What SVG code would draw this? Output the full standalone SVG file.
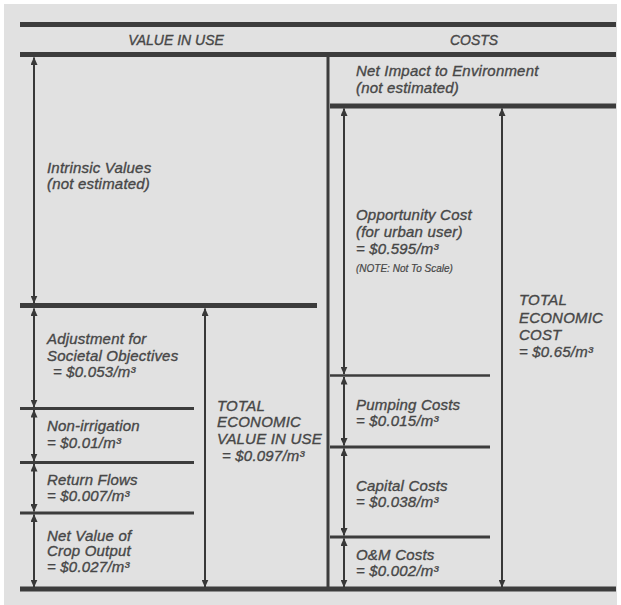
<svg xmlns="http://www.w3.org/2000/svg" width="621" height="605" viewBox="0 0 621 605">
  <defs>
    <marker id="head" viewBox="0 0 8 7" refX="7.5" refY="3.5" markerWidth="8" markerHeight="7" markerUnits="userSpaceOnUse" orient="auto-start-reverse">
      <path d="M0,0 L8,3.5 L0,7 z" fill="#383838"/>
    </marker>
  </defs>
  <style>
    .bg { fill: #e1e1e1; }
    .rule { stroke: #3c3c3c; fill: none; }
    .heavy { stroke-width: 5; }
    .mid { stroke-width: 3; }
    .light { stroke-width: 2.5; }
    .dim { stroke: #383838; stroke-width: 2; fill: none; marker-start: url(#head); marker-end: url(#head); }
    text { font-family: "Liberation Sans", Arial, sans-serif; font-style: italic; fill: #474747; stroke: #474747; stroke-width: 0.35px; font-size: 15px; letter-spacing: 0.2px; }
    .head { font-size: 14px; text-anchor: middle; letter-spacing: 0; }
    .note { font-size: 10px; letter-spacing: 0; stroke-width: 0.2px; }
  </style>

  <rect class="bg" x="4" y="4" width="613" height="601"/>

  <!-- frame rules and divisions -->
  <g id="frame">
    <line class="rule heavy" x1="20" y1="24.5" x2="616" y2="24.5"/>
    <line class="rule heavy" x1="20" y1="54.5" x2="616" y2="54.5"/>
    <line class="rule mid" x1="328" y1="54" x2="328" y2="589"/>
    <line class="rule heavy" x1="20" y1="589" x2="616" y2="589"/>
    <text class="head" x="176" y="45">VALUE IN USE</text>
    <text class="head" x="474" y="45">COSTS</text>
  </g>

  <!-- value-in-use column -->
  <g id="intrinsic">
    <text x="47" y="173">Intrinsic Values</text>
    <text x="47" y="189">(not estimated)</text>
  </g>
  <g id="societal">
    <line class="rule heavy" x1="20" y1="305.5" x2="317" y2="305.5"/>
    <text x="47" y="344">Adjustment for</text>
    <text x="47" y="361">Societal Objectives</text>
    <text x="53" y="377">= $0.053/m³</text>
  </g>
  <g id="nonirrigation">
    <line class="rule mid" x1="20" y1="408.5" x2="194" y2="408.5"/>
    <text x="47" y="431">Non-irrigation</text>
    <text x="47" y="447.5">= $0.01/m³</text>
  </g>
  <g id="returnflows">
    <line class="rule mid" x1="20" y1="462.5" x2="194" y2="462.5"/>
    <text x="47" y="485">Return Flows</text>
    <text x="47" y="501">= $0.007/m³</text>
  </g>
  <g id="cropoutput">
    <line class="rule mid" x1="20" y1="513" x2="194" y2="513"/>
    <text x="47" y="540.5">Net Value of</text>
    <text x="47" y="556">Crop Output</text>
    <text x="47" y="572">= $0.027/m³</text>
  </g>
  <g id="totalvalue">
    <text x="217" y="410.5">TOTAL</text>
    <text x="217" y="427">ECONOMIC</text>
    <text x="217" y="444">VALUE IN USE</text>
    <text x="222" y="460.5">= $0.097/m³</text>
  </g>

  <!-- cost column -->
  <g id="environment">
    <text x="356" y="76">Net Impact to Environment</text>
    <text x="356" y="93">(not estimated)</text>
  </g>
  <g id="opportunity">
    <line class="rule heavy" x1="330" y1="106" x2="616" y2="106"/>
    <text x="356" y="220">Opportunity Cost</text>
    <text x="356" y="237">(for urban user)</text>
    <text x="356" y="254">= $0.595/m³</text>
    <text class="note" x="356" y="272">(NOTE: Not To Scale)</text>
  </g>
  <g id="pumping">
    <line class="rule light" x1="330" y1="375.5" x2="490" y2="375.5"/>
    <text x="356" y="409.5">Pumping Costs</text>
    <text x="356" y="426">= $0.015/m³</text>
  </g>
  <g id="capital">
    <line class="rule mid" x1="330" y1="447" x2="490" y2="447"/>
    <text x="356" y="491">Capital Costs</text>
    <text x="356" y="507">= $0.038/m³</text>
  </g>
  <g id="om">
    <line class="rule mid" x1="330" y1="537" x2="490" y2="537"/>
    <text x="356" y="560">O&amp;M Costs</text>
    <text x="356" y="576">= $0.002/m³</text>
  </g>
  <g id="totalcost">
    <text x="519" y="305">TOTAL</text>
    <text x="519" y="322.5">ECONOMIC</text>
    <text x="519" y="340">COST</text>
    <text x="519" y="356.5">= $0.65/m³</text>
  </g>

  <!-- extent arrows -->
  <g id="connectors">
    <line class="dim" x1="34" y1="57.5" x2="34" y2="303"/>
    <line class="dim" x1="34" y1="308.5" x2="34" y2="407"/>
    <line class="dim" x1="34" y1="410" x2="34" y2="461"/>
    <line class="dim" x1="34" y1="464" x2="34" y2="511.5"/>
    <line class="dim" x1="34" y1="514.5" x2="34" y2="587"/>
    <line class="dim" x1="205" y1="308.5" x2="205" y2="587"/>
    <line class="dim" x1="344" y1="108.5" x2="344" y2="374"/>
    <line class="dim" x1="344" y1="377" x2="344" y2="445.5"/>
    <line class="dim" x1="344" y1="448.5" x2="344" y2="535.5"/>
    <line class="dim" x1="344" y1="538.5" x2="344" y2="587"/>
    <line class="dim" x1="502" y1="108.5" x2="502" y2="587"/>
  </g>
</svg>
